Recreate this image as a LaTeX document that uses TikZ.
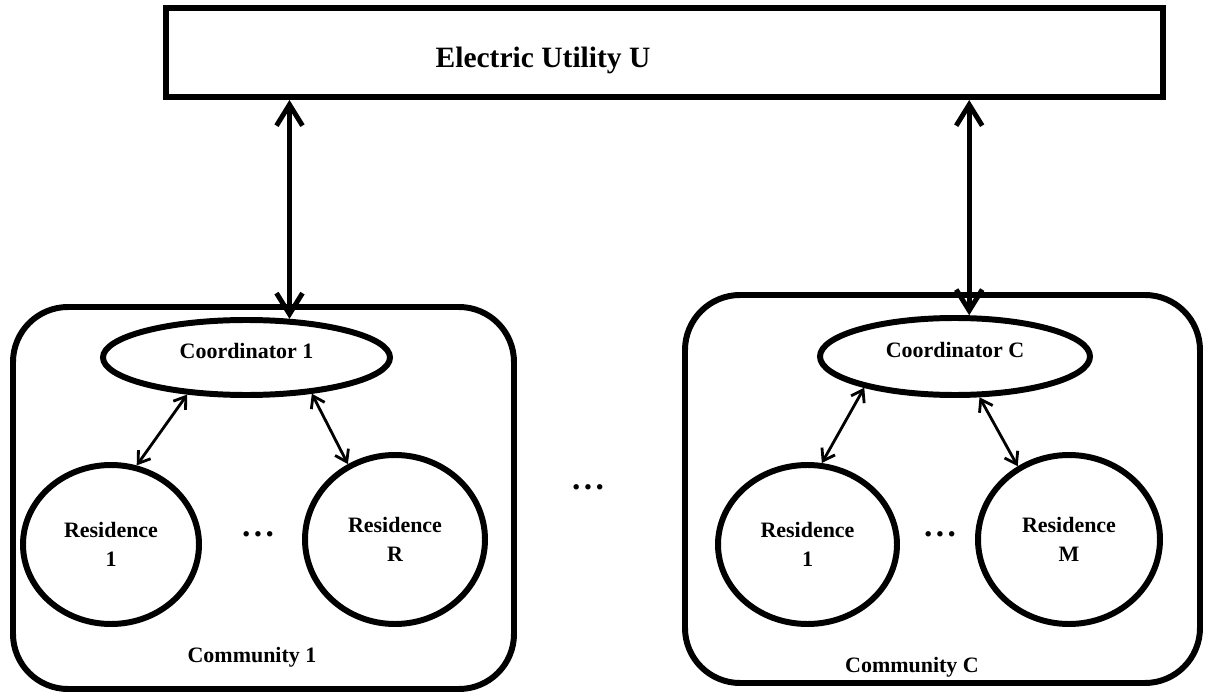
\documentclass[tikz,border=0pt]{standalone}
\usepackage{fontspec}
\setmainfont{Liberation Serif}
\usetikzlibrary{shapes,arrows.meta}

\begin{document}
\begin{tikzpicture}[
    bigarrow/.style={{Straight Barb[length=0.42cm,width=0.52cm]}-{Straight Barb[length=0.42cm,width=0.52cm]},line width=2.8pt},
    smallarrow/.style={{Straight Barb[length=0.22cm,width=0.3cm]}-{Straight Barb[length=0.22cm,width=0.3cm]},line width=1.6pt},
    txt/.style={font=\fontsize{12.5}{16.5}\selectfont\bfseries,align=center},
    dotsty/.style={font=\fontsize{19}{19}\selectfont\bfseries,inner sep=0},
    resid/.style={ellipse,draw,line width=3.4pt,inner sep=0,txt},
    coordin/.style={ellipse,draw,line width=3.4pt,inner sep=0,txt,text depth=0.28cm},
    community/.style={draw,line width=3.4pt,rounded corners=1.1cm,inner sep=0}]
    \useasboundingbox (0,0) rectangle (24.12,13.96);
    \node[draw,line width=3.4pt,minimum width=19.94cm,minimum height=1.78cm] (util) at (13.29,12.91) {};
    \node[font=\fontsize{16.8}{20}\selectfont\bfseries] (utiltext) at (10.86,12.76) {Electric Utility U};

    \node[community,minimum width=10.02cm,minimum height=7.64cm] (comm1) at (5.27,4.0) {};
    \node[community,minimum width=10.3cm,minimum height=7.76cm] (commC) at (18.85,4.18) {};

    \node[coordin,minimum width=5.74cm,minimum height=1.5cm] (coord1) at (4.93,6.81) {Coordinator 1};
    \node[coordin,minimum width=5.4cm,minimum height=1.54cm] (coordC) at (19.1,6.83) {Coordinator C};

    \node[resid,minimum width=3.52cm,minimum height=3.18cm] (res1a) at (2.22,3.07) {Residence\\1};
    \node[resid,minimum width=3.6cm,minimum height=3.38cm] (resR) at (7.9,3.17) {Residence\\R};
    \node[resid,minimum width=3.58cm,minimum height=3.18cm] (res1b) at (16.15,3.07) {Residence\\1};
    \node[resid,minimum width=3.64cm,minimum height=3.38cm] (resM) at (21.38,3.17) {Residence\\M};

    \node[dotsty] (dots1) at (5.16,3.28) {.\hspace{0.1em}.\hspace{0.1em}.};
    \node[dotsty] (dots2) at (11.76,4.22) {.\hspace{0.1em}.\hspace{0.1em}.};
    \node[dotsty] (dots3) at (18.8,3.28) {.\hspace{0.1em}.\hspace{0.1em}.};

    \node[txt] (lab1) at (5.04,0.82) {Community 1};
    \node[txt] (labC) at (18.24,0.62) {Community C};

    \draw[bigarrow] (util.south -| coord1.42) -- (coord1.42);
    \draw[bigarrow] (util.south -| coordC.71) -- (coordC.71);

    \draw[smallarrow] (coord1.212) -- (res1a.72);
    \draw[smallarrow] (coord1.331) -- (resR.122);
    \draw[smallarrow] (coordC.199) -- (res1b.80);
    \draw[smallarrow] (coordC.301) -- (resM.125);
\end{tikzpicture}
\end{document}
